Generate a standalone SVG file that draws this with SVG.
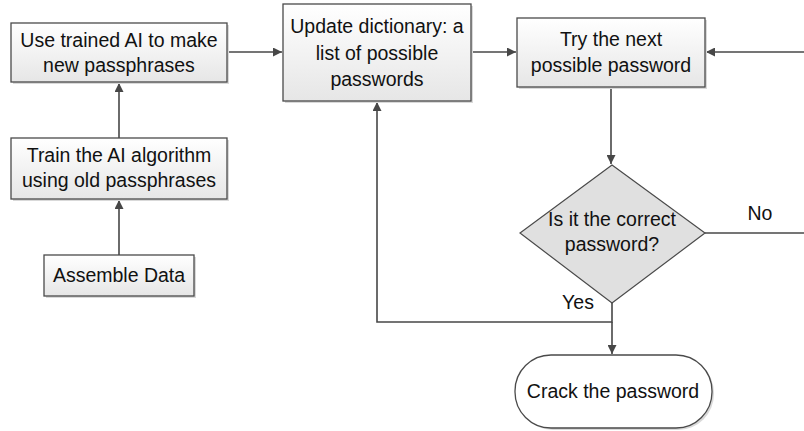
<svg xmlns="http://www.w3.org/2000/svg" width="804" height="431" viewBox="0 0 804 431">
<style>
.box{fill:url(#g);stroke:#4a4a4a;stroke-width:1.3}
.sh{fill:#d9d9d9}
.t{font-family:"Liberation Sans",Arial,sans-serif;font-size:19.5px;fill:#111;text-anchor:middle}
.c{fill:none;stroke:#474747;stroke-width:1.6}
</style>
<defs>
<linearGradient id="g" x1="0" y1="0" x2="0" y2="1">
<stop offset="0" stop-color="#ffffff"/><stop offset="1" stop-color="#e6e6e6"/>
</linearGradient>
<marker id="a" viewBox="0 0 10 10" refX="10" refY="5" markerWidth="9" markerHeight="9" markerUnits="userSpaceOnUse" orient="auto">
<path d="M0,0 L10,5 L0,10 z" fill="#474747"/>
</marker>
</defs>
<rect width="804" height="431" fill="#fff"/>
<g id="connectors">
<path class="c" d="M227,52 H282" marker-end="url(#a)"/>
<path class="c" d="M471,52 H516" marker-end="url(#a)"/>
<path class="c" d="M804,52 H706" marker-end="url(#a)"/>
<path class="c" d="M119,255 V200" marker-end="url(#a)"/>
<path class="c" d="M119,138 V83" marker-end="url(#a)"/>
<path class="c" d="M611,87 V164" marker-end="url(#a)"/>
<path class="c" d="M705,233 H804"/>
<path class="c" d="M612,303 V322 H377 V102" marker-end="url(#a)"/>
<path class="c" d="M612,322 V354" marker-end="url(#a)"/>
</g>
<g id="n1">
<rect class="sh" x="13" y="25" width="216" height="59"/>
<rect class="box" x="11" y="23" width="216" height="59"/>
<text class="t" x="119" y="47">Use trained AI to make</text>
<text class="t" x="119" y="72">new passphrases</text>
</g>
<g id="n2">
<rect class="sh" x="285" y="6" width="188" height="97"/>
<rect class="box" x="283" y="4" width="188" height="97"/>
<text class="t" x="377" y="33">Update dictionary: a</text>
<text class="t" x="377" y="60">list of possible</text>
<text class="t" x="377" y="86">passwords</text>
</g>
<g id="n3">
<rect class="sh" x="519" y="20" width="188" height="69"/>
<rect class="box" x="517" y="18" width="188" height="69"/>
<text class="t" x="611" y="46">Try the next</text>
<text class="t" x="611" y="72">possible password</text>
</g>
<g id="n4">
<rect class="sh" x="13" y="140" width="216" height="61"/>
<rect class="box" x="11" y="138" width="216" height="61"/>
<text class="t" x="119" y="162">Train the AI algorithm</text>
<text class="t" x="119" y="187">using old passphrases</text>
</g>
<g id="n5">
<rect class="sh" x="46" y="257" width="150" height="41"/>
<rect class="box" x="44" y="255" width="150" height="41"/>
<text class="t" x="119" y="282">Assemble Data</text>
</g>
<g id="n6">
<path d="M612,165 L705,233 L612,303 L520,233 z" fill="#e0e0e0" stroke="#4a4a4a" stroke-width="1.2"/>
<text class="t" x="612" y="226">Is it the correct</text>
<text class="t" x="612" y="251">password?</text>
</g>
<g id="n7">
<rect class="sh" x="517" y="357" width="197" height="73" rx="36"/>
<rect x="515" y="355" width="197" height="73" rx="36" fill="#fff" stroke="#4a4a4a" stroke-width="1.3"/>
<text class="t" x="613" y="398">Crack the password</text>
</g>
<g id="labels">
<text class="t" x="760" y="220">No</text>
<text class="t" x="578" y="309">Yes</text>
</g>
</svg>
